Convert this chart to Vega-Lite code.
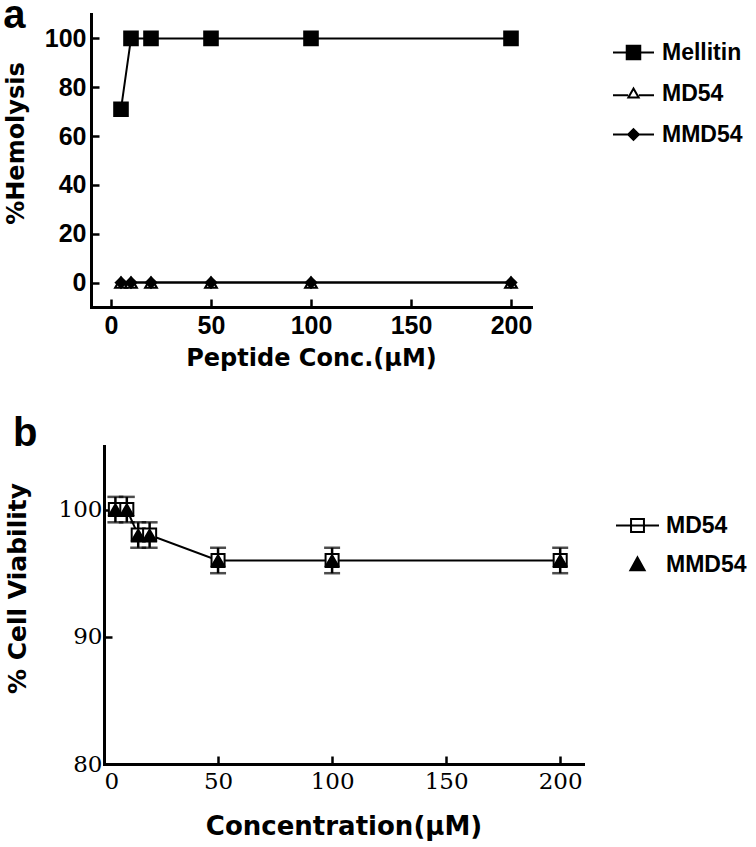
{
  "$schema": "https://vega.github.io/schema/vega-lite/v6.json",
  "background": "white",
  "padding": {"left": -3, "top": -4, "right": 5, "bottom": 5},
  "config": {
    "view": {"stroke": null},
    "font": "Liberation Sans",
    "axis": {
      "grid": false,
      "domainColor": "black",
      "domainWidth": 3,
      "domainCap": "square",
      "tickColor": "black",
      "tickWidth": 2.5,
      "tickSize": -8,
      "labelColor": "black",
      "titleColor": "black",
      "labelOverlap": false
    },
    "legend": {
      "labelColor": "black",
      "labelFont": "Liberation Sans",
      "labelFontWeight": "bold"
    }
  },
  "datasets": {
    "hemo": [
      {"series": "Mellitin", "conc": 5, "pct": 71},
      {"series": "Mellitin", "conc": 10, "pct": 100},
      {"series": "Mellitin", "conc": 20, "pct": 100},
      {"series": "Mellitin", "conc": 50, "pct": 100},
      {"series": "Mellitin", "conc": 100, "pct": 100},
      {"series": "Mellitin", "conc": 200, "pct": 100},
      {"series": "MD54", "conc": 5, "pct": 0},
      {"series": "MD54", "conc": 10, "pct": 0},
      {"series": "MD54", "conc": 20, "pct": 0},
      {"series": "MD54", "conc": 50, "pct": 0},
      {"series": "MD54", "conc": 100, "pct": 0},
      {"series": "MD54", "conc": 200, "pct": 0},
      {"series": "MMD54", "conc": 5, "pct": 0},
      {"series": "MMD54", "conc": 10, "pct": 0},
      {"series": "MMD54", "conc": 20, "pct": 0},
      {"series": "MMD54", "conc": 50, "pct": 0},
      {"series": "MMD54", "conc": 100, "pct": 0},
      {"series": "MMD54", "conc": 200, "pct": 0}
    ],
    "viab": [
      {"series": "MD54", "conc": 5, "v": 100, "err": 1},
      {"series": "MD54", "conc": 10, "v": 100, "err": 1},
      {"series": "MD54", "conc": 15, "v": 98, "err": 1},
      {"series": "MD54", "conc": 20, "v": 98, "err": 1},
      {"series": "MD54", "conc": 50, "v": 96, "err": 1},
      {"series": "MD54", "conc": 100, "v": 96, "err": 1},
      {"series": "MD54", "conc": 200, "v": 96, "err": 1},
      {"series": "MMD54", "conc": 5, "v": 100, "err": 1},
      {"series": "MMD54", "conc": 10, "v": 100, "err": 1},
      {"series": "MMD54", "conc": 15, "v": 98, "err": 1},
      {"series": "MMD54", "conc": 20, "v": 98, "err": 1},
      {"series": "MMD54", "conc": 50, "v": 96, "err": 1},
      {"series": "MMD54", "conc": 100, "v": 96, "err": 1},
      {"series": "MMD54", "conc": 200, "v": 96, "err": 1}
    ],
    "none": []
  },
  "spacing": 44,
  "resolve": {"scale": {"shape": "independent", "fill": "independent", "stroke": "independent", "size": "independent"}, "legend": {"shape": "independent", "fill": "independent", "stroke": "independent"}},
  "vconcat": [
    {"spacing": 0, "hconcat": [
    {"width": 6, "height": 1, "data": {"name": "none"}, "mark": {"type": "point", "opacity": 0}},
    {
      "width": 440,
      "height": 293,
      "title": {"text": "a", "anchor": "start", "frame": "bounds", "fontSize": 40, "font": "Liberation Sans", "fontWeight": "bold", "color": "black", "baseline": "alphabetic", "offset": -54, "dx": -1},
      "data": {"name": "hemo"},
      "encoding": {
        "x": {
          "field": "conc", "type": "quantitative",
          "scale": {"domain": [-10, 210], "nice": false, "zero": false},
          "axis": {"values": [0, 50, 100, 150, 200], "title": "Peptide Conc.(μM)", "labelFont": "Liberation Sans", "labelFontWeight": "bold", "labelFontSize": 25, "labelPadding": 14, "titleFont": "DejaVu Sans", "titleFontWeight": "bold", "titleFontSize": 24, "titlePadding": 8}
        },
        "y": {
          "field": "pct", "type": "quantitative",
          "scale": {"domain": [-10, 110], "nice": false, "zero": false},
          "axis": {"values": [0, 20, 40, 60, 80, 100], "title": "%Hemolysis", "labelFont": "Liberation Sans", "labelFontWeight": "bold", "labelFontSize": 25, "labelPadding": 13, "titleFont": "DejaVu Sans", "titleFontWeight": "bold", "titleFontSize": 24, "titlePadding": 16, "titleY": 129}
        }
      },
      "layer": [
        {
          "mark": {"type": "line", "stroke": "black", "strokeWidth": 2},
          "encoding": {"detail": {"field": "series"}}
        },
        {
          "transform": [{"filter": "datum.series === 'Mellitin'"}],
          "mark": {"type": "point", "shape": "square", "size": 185, "filled": true, "fill": "black", "opacity": 1, "stroke": "black", "strokeWidth": 2}
        },
        {
          "transform": [{"filter": "datum.series === 'MD54'"}],
          "mark": {"type": "point", "shape": "triangle-up", "size": 140, "filled": true, "fill": "white", "opacity": 1, "stroke": "black", "strokeWidth": 2}
        },
        {
          "transform": [{"filter": "datum.series === 'MMD54'"}],
          "mark": {"type": "point", "shape": "diamond", "size": 110, "filled": true, "fill": "black", "opacity": 1, "stroke": "black", "strokeWidth": 2}
        },
        {
          "transform": [{"filter": "false"}],
          "mark": {"type": "point", "filled": true, "opacity": 1, "strokeWidth": 2},
          "encoding": {
            "shape": {
              "field": "series", "type": "nominal",
              "scale": {"domain": ["Mellitin", "MD54", "MMD54"], "range": ["M-1,0H1M-0.33,-0.33H0.33V0.33H-0.33Z", "M-1,0.08H-0.26M0.26,0.08H1M0,-0.24L0.25,0.2H-0.25Z", "M-1,0H1M0,-0.26L0.26,0L0,0.26L-0.26,0Z"]},
              "legend": {"title": null, "orient": "none", "legendX": 615, "legendY": 17, "padding": 0, "symbolSize": 1681, "symbolStrokeWidth": 2, "labelFontSize": 23, "labelOffset": 7, "rowPadding": 7}
            },
            "fill": {
              "field": "series", "type": "nominal",
              "scale": {"domain": ["Mellitin", "MD54", "MMD54"], "range": ["black", "white", "black"]},
              "legend": {"title": null, "orient": "none", "legendX": 615, "legendY": 17, "padding": 0, "symbolSize": 1681, "symbolStrokeWidth": 2, "labelFontSize": 23, "labelOffset": 7, "rowPadding": 7}
            },
            "stroke": {
              "field": "series", "type": "nominal",
              "scale": {"domain": ["Mellitin", "MD54", "MMD54"], "range": ["black", "black", "black"]},
              "legend": {"title": null, "orient": "none", "legendX": 615, "legendY": 17, "padding": 0, "symbolSize": 1681, "symbolStrokeWidth": 2, "labelFontSize": 23, "labelOffset": 7, "rowPadding": 7}
            }
          }
        }
      ]
    }]},
    {"spacing": 0, "hconcat": [
    {"width": 8, "height": 1, "data": {"name": "none"}, "mark": {"type": "point", "opacity": 0}},
    {
      "width": 479,
      "height": 318,
      "title": {"text": "b", "anchor": "start", "frame": "bounds", "fontSize": 40, "font": "Liberation Sans", "fontWeight": "bold", "color": "black", "baseline": "alphabetic", "offset": -40, "dx": 8},
      "data": {"name": "viab"},
      "encoding": {
        "x": {
          "field": "conc", "type": "quantitative",
          "scale": {"domain": [0, 210], "nice": false, "zero": false},
          "axis": {"values": [0, 50, 100, 150, 200], "title": "Concentration(μM)", "labelFont": "DejaVu Serif", "labelFontSize": 23, "labelPadding": 14, "titleFont": "DejaVu Sans", "titleFontWeight": "bold", "titleFontSize": 26, "titlePadding": 20}
        },
        "y": {
          "field": "v", "type": "quantitative",
          "scale": {"domain": [80, 105], "nice": false, "zero": false},
          "axis": {"values": [80, 90, 100], "title": "% Cell Viability", "labelFont": "DejaVu Serif", "labelFontSize": 23, "labelPadding": 10, "titleFont": "DejaVu Sans", "titleFontWeight": "bold", "titleFontSize": 25, "titlePadding": 28, "titleY": 142}
        }
      },
      "layer": [
        {
          "transform": [{"filter": "datum.series === 'MD54'"}],
          "mark": {"type": "errorbar", "color": "black", "thickness": 2.5, "ticks": {"size": 16, "thickness": 2.5, "color": "black"}},
          "encoding": {"yError": {"field": "err"}}
        },
        {
          "transform": [{"filter": "datum.series === 'MD54'"}],
          "mark": {"type": "line", "stroke": "black", "strokeWidth": 2},
          "encoding": {}
        },
        {
          "transform": [{"filter": "datum.series === 'MD54'"}],
          "mark": {"type": "point", "shape": "square", "size": 170, "filled": true, "fill": "white", "opacity": 1, "stroke": "black", "strokeWidth": 2}
        },
        {
          "transform": [{"filter": "datum.series === 'MMD54'"}],
          "mark": {"type": "point", "shape": "triangle-up", "size": 150, "filled": true, "fill": "black", "opacity": 1, "stroke": "black", "strokeWidth": 2}
        },
        {
          "transform": [{"filter": "false"}],
          "mark": {"type": "point", "filled": true, "opacity": 1, "strokeWidth": 2},
          "encoding": {
            "shape": {
              "field": "series", "type": "nominal",
              "scale": {"domain": ["MD54", "MMD54"], "range": ["M-1,0H1M-0.3,-0.3H0.3V0.3H-0.3Z", "M0,-0.33L0.33,0.27H-0.33Z"]},
              "legend": {"title": null, "orient": "none", "legendX": 618, "legendY": 57, "padding": 0, "symbolSize": 1849, "symbolStrokeWidth": 2, "labelFontSize": 23, "labelOffset": 6, "rowPadding": 4}
            },
            "fill": {
              "field": "series", "type": "nominal",
              "scale": {"domain": ["MD54", "MMD54"], "range": ["white", "black"]},
              "legend": {"title": null, "orient": "none", "legendX": 618, "legendY": 57, "padding": 0, "symbolSize": 1849, "symbolStrokeWidth": 2, "labelFontSize": 23, "labelOffset": 6, "rowPadding": 4}
            },
            "stroke": {
              "field": "series", "type": "nominal",
              "scale": {"domain": ["MD54", "MMD54"], "range": ["black", "black"]},
              "legend": {"title": null, "orient": "none", "legendX": 618, "legendY": 57, "padding": 0, "symbolSize": 1849, "symbolStrokeWidth": 2, "labelFontSize": 23, "labelOffset": 6, "rowPadding": 4}
            }
          }
        }
      ]
    }]}
  ]
}
